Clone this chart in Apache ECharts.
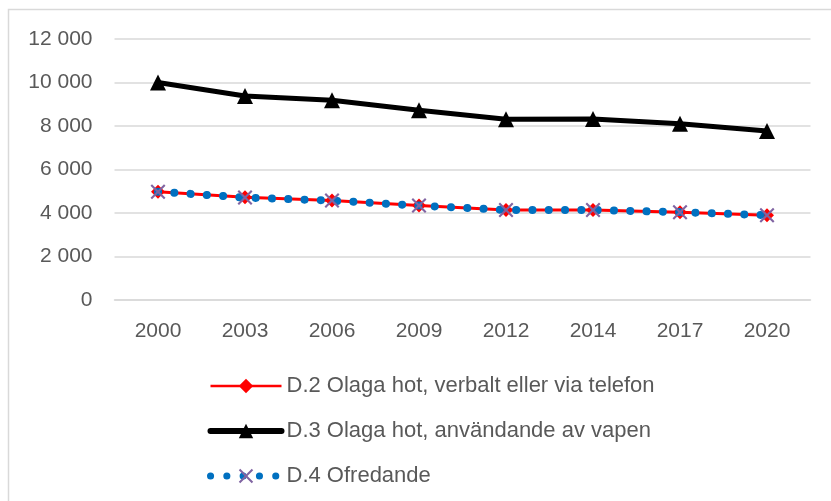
<!DOCTYPE html>
<html>
<head>
<meta charset="utf-8">
<script src="https://cdn.jsdelivr.net/npm/echarts@6/dist/echarts.min.js"></script>
<style>
html,body{margin:0;padding:0;background:#fff;}
#chart{width:831px;height:501px;}
</style>
</head>
<body>
<div id="chart"></div>
<script>
const categories = ['2000','2003','2006','2009','2012','2014','2017','2020'];
const seriesNames = [
  'D.2 Olaga hot, verbalt eller via telefon',
  'D.3 Olaga hot, användande av vapen',
  'D.4 Ofredande'
];
const d2Values = [4980, 4720, 4570, 4340, 4140, 4140, 4040, 3900];
const d3Values = [10000, 9380, 9180, 8720, 8310, 8320, 8100, 7770];
const d4Values = [4980, 4710, 4570, 4340, 4140, 4140, 4040, 3900];
const yTicks = [0, 2000, 4000, 6000, 8000, 10000, 12000];

const FONT = '"Liberation Sans", Arial, sans-serif';
const TXT = '#595959';
const xPath = 'path://M1.4,0 L7,5.6 L12.6,0 L14,1.4 L8.4,7 L14,12.6 L12.6,14 L7,8.4 L1.4,14 L0,12.6 L5.6,7 L0,1.4 Z';
const dotDash = [0.1, 16.2];

function fmt(v){
  return String(v).replace(/\B(?=(\d{3})+(?!\d))/g, ' ');
}

const chart = echarts.init(document.getElementById('chart'), null, {renderer:'canvas'});
chart.setOption({
  animation:false,
  backgroundColor:'#fff',
  textStyle:{fontFamily:FONT},
  graphic:[{
    type:'rect', silent:true, z:-10,
    shape:{x:8.5, y:9.5, width:1000, height:1000},
    style:{fill:'none', stroke:'#d9d9d9', lineWidth:1.5}
  }],
  grid:{left:114.5, right:20.5, top:39, bottom:201},
  xAxis:{
    type:'category', data:categories, boundaryGap:true,
    axisLine:{show:true, lineStyle:{color:'#d9d9d9', width:1.5}},
    axisTick:{show:false},
    axisLabel:{color:TXT, fontSize:21, fontFamily:FONT, margin:21}
  },
  yAxis:{
    type:'value', min:yTicks[0], max:yTicks[yTicks.length-1], interval:yTicks[1]-yTicks[0],
    axisLine:{show:false}, axisTick:{show:false},
    splitLine:{lineStyle:{color:'#d9d9d9', width:1.5}},
    axisLabel:{color:TXT, fontSize:21, fontFamily:FONT, margin:22, formatter:fmt}
  },
  legend:{
    orient:'vertical', left:202, top:370,
    itemWidth:71, itemHeight:18, itemGap:23,
    textStyle:{color:TXT, fontSize:22, fontFamily:FONT},
    data:[
      {name:seriesNames[0], lineStyle:{width:2.5, color:'#ff0000'}},
      {name:seriesNames[1], lineStyle:{width:6, color:'#000000', cap:'round'}},
      {name:seriesNames[2], lineStyle:{width:7, color:'#0070c0', type:dotDash, cap:'round'}}
    ]
  },
  series:[
    {
      name:seriesNames[0], type:'line', data:d2Values,
      symbol:'diamond', symbolSize:14, showAllSymbol:true,
      lineStyle:{color:'#ff0000', width:3},
      itemStyle:{color:'#ff0000'}, z:2
    },
    {
      name:seriesNames[1], type:'line', data:d3Values,
      symbol:'triangle', symbolSize:16, showAllSymbol:true,
      lineStyle:{color:'#000000', width:5},
      itemStyle:{color:'#000000'}, z:2
    },
    {
      name:seriesNames[2], type:'line', data:d4Values,
      symbol:xPath, symbolSize:15, showAllSymbol:true,
      lineStyle:{color:'#0070c0', width:8, type:dotDash, cap:'round'},
      itemStyle:{color:'#8064a2'}, z:3
    }
  ]
});
</script>
</body>
</html>
